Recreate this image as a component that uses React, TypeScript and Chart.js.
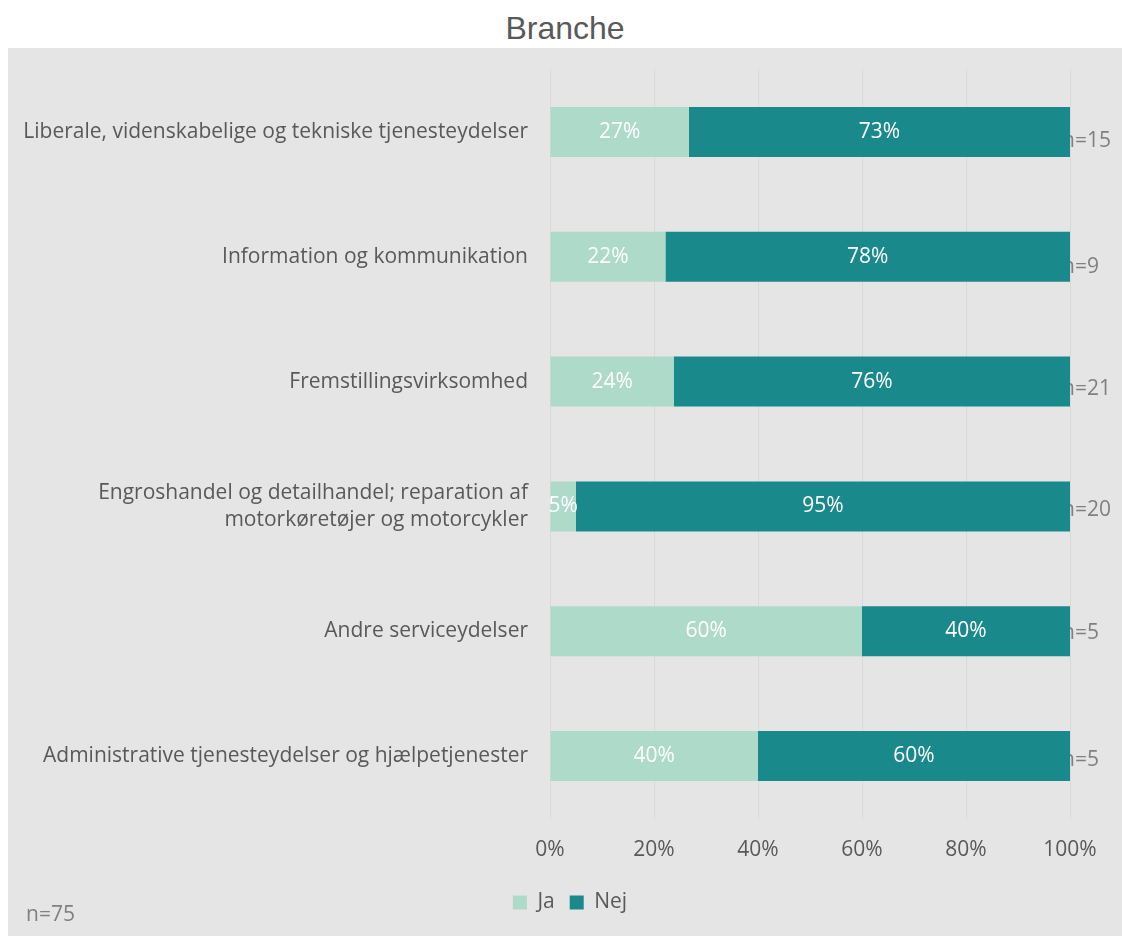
import React, { useEffect, useRef } from "react";
import { Chart, registerables } from "chart.js";

Chart.register(...registerables);

const categories: (string | string[])[] = [
  "Liberale, videnskabelige og tekniske tjenesteydelser",
  "Information og kommunikation",
  "Fremstillingsvirksomhed",
  ["Engroshandel og detailhandel; reparation af", "motorkøretøjer og motorcykler"],
  "Andre serviceydelser",
  "Administrative tjenesteydelser og hjælpetjenester",
];
const jaValues = [26.7, 22.2, 23.8, 5, 60, 40];
const nejValues = [73.3, 77.8, 76.2, 95, 40, 60];
const nValues = [15, 9, 21, 20, 5, 5];
const xTickValues = [0, 20, 40, 60, 80, 100];
const seriesNames = ["Ja", "Nej"];
const totalLabel = "n=75";
const titleText = "Branche";

// vertical nudges (px) of the hand-placed n= labels, relative to bar centre
const nLabelNudge = [9, 10, 7.5, 3.5, 1.5, 3.5];

const FONT = "'Open Sans', 'Noto Sans', sans-serif";
const FS = 21;
const JA_COLOR = "#aedaca";
const NEJ_COLOR = "#1a898b";

const overlayPlugin = {
  id: "overlay",
  beforeDatasetsDraw(chart: any) {
    const { ctx } = chart;
    const xs = chart.scales.x;
    const ys = chart.scales.y;
    ctx.save();
    ctx.font = `${FS}px ${FONT}`;
    ctx.fillStyle = "#808080";
    ctx.textAlign = "left";
    ctx.textBaseline = "middle";
    nValues.forEach((n, i) => {
      const y = ys.getPixelForValue(i) + nLabelNudge[i];
      ctx.fillText(`n=${n}`, xs.getPixelForValue(100) - 8, y);
    });
    ctx.restore();
  },
  afterDatasetsDraw(chart: any) {
    const { ctx } = chart;
    ctx.save();
    ctx.font = `${FS}px ${FONT}`;
    ctx.fillStyle = "#ffffff";
    ctx.textAlign = "center";
    ctx.textBaseline = "middle";
    chart.data.datasets.forEach((ds: any, di: number) => {
      const meta = chart.getDatasetMeta(di);
      meta.data.forEach((bar: any, i: number) => {
        const v = ds.data[i];
        const cx = (bar.x + bar.base) / 2;
        ctx.fillText(`${Math.round(v)}%`, cx, bar.y);
      });
    });
    ctx.fillStyle = "#808080";
    ctx.textAlign = "left";
    ctx.fillText(totalLabel, 18, 867);
    ctx.restore();
  },
};

export default function App() {
  const ref = useRef<HTMLCanvasElement | null>(null);
  useEffect(() => {
    if (!ref.current) return;
    const chart = new Chart(ref.current, {
      type: "bar",
      data: {
        labels: categories,
        datasets: [
          {
            label: seriesNames[0],
            data: jaValues,
            backgroundColor: JA_COLOR,
            barPercentage: 0.4,
            categoryPercentage: 1,
          },
          {
            label: seriesNames[1],
            data: nejValues,
            backgroundColor: NEJ_COLOR,
            barPercentage: 0.4,
            categoryPercentage: 1,
          },
        ],
      },
      options: {
        indexAxis: "y",
        responsive: false,
        animation: false,
        layout: { padding: { left: 10, right: 0, top: 21.5, bottom: 13 } },
        plugins: {
          legend: {
            position: "bottom",
            labels: {
              boxWidth: 14,
              boxHeight: 14,
              padding: 15,
              color: "#595959",
              font: { family: FONT, size: FS },
            },
          },
          tooltip: { enabled: false },
          title: { display: false },
        },
        scales: {
          x: {
            stacked: true,
            min: 0,
            max: 100,
            afterBuildTicks: (s: any) => {
              s.ticks = xTickValues.map((v) => ({ value: v }));
            },
            afterFit: (s: any) => {
              s.height = 58.5;
              s.paddingLeft = 0;
              s.paddingRight = 52;
            },
            ticks: {
              padding: 18.5,
              color: "#595959",
              font: { family: FONT, size: FS },
              callback: (v: any) => `${v}%`,
            },
            grid: { color: "#d9d9d9", drawTicks: false, lineWidth: 1 },
            border: { display: false },
          },
          y: {
            stacked: true,
            afterFit: (s: any) => {
              s.width = 532;
              s.paddingTop = 0;
              s.paddingBottom = 0;
            },
            ticks: {
              padding: 22,
              color: "#595959",
              font: { family: FONT, size: FS, lineHeight: 1.29 },
            },
            grid: { display: false, drawTicks: false },
            border: { display: false },
          },
        },
      },
      plugins: [overlayPlugin],
    } as any);
    return () => chart.destroy();
  }, []);

  return (
    <div style={{ position: "fixed", left: 8, top: 8, width: 1114 }}>
      <div
        style={{
          height: 40,
          lineHeight: "40px",
          textAlign: "center",
          fontFamily: "'Liberation Sans', Arial, sans-serif",
          fontSize: 32,
          color: "#595959",
          background: "#ffffff",
        }}
      >
        {titleText}
      </div>
      <div style={{ width: 1114, height: 888, background: "#e5e5e5" }}>
        <canvas ref={ref} width={1114} height={888} style={{ display: "block" }} />
      </div>
    </div>
  );
}
